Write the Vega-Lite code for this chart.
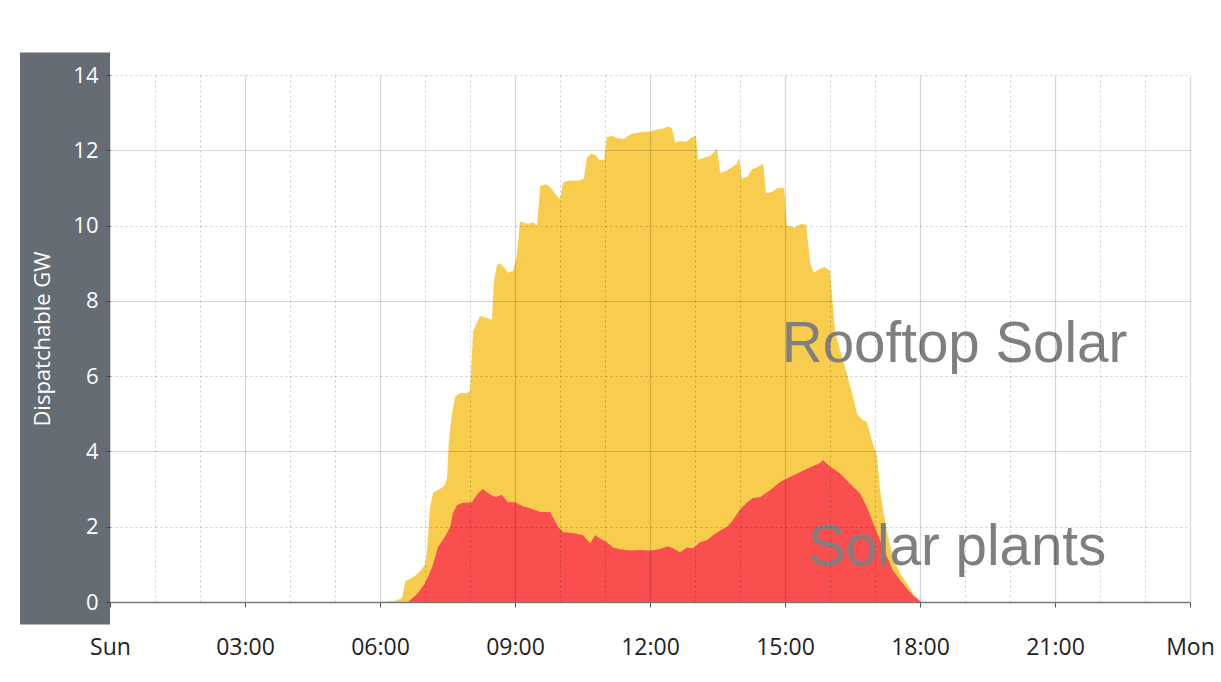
{
  "$schema": "https://vega.github.io/schema/vega-lite/v6.json",
  "width": 1080,
  "height": 527,
  "autosize": {"type": "none"},
  "padding": {"left": 110, "top": 75, "right": 31, "bottom": 80},
  "background": "white",
  "config": {"view": {"stroke": null}, "font": "Open Sans"},
  "datasets": {
    "total": [
      {"hour": 0, "gw": 0}, {"hour": 6.0, "gw": 0}, {"hour": 6.33, "gw": 0.03}, {"hour": 6.49, "gw": 0.1},
      {"hour": 6.56, "gw": 0.55}, {"hour": 6.67, "gw": 0.62}, {"hour": 6.78, "gw": 0.7}, {"hour": 6.89, "gw": 0.82},
      {"hour": 7.0, "gw": 1.0}, {"hour": 7.04, "gw": 1.3}, {"hour": 7.11, "gw": 2.5}, {"hour": 7.18, "gw": 2.9},
      {"hour": 7.33, "gw": 3.0}, {"hour": 7.44, "gw": 3.1}, {"hour": 7.49, "gw": 3.3}, {"hour": 7.53, "gw": 4.3},
      {"hour": 7.6, "gw": 5.0}, {"hour": 7.67, "gw": 5.45}, {"hour": 7.78, "gw": 5.55}, {"hour": 7.93, "gw": 5.55},
      {"hour": 8.0, "gw": 5.6}, {"hour": 8.07, "gw": 7.2}, {"hour": 8.13, "gw": 7.35}, {"hour": 8.22, "gw": 7.6},
      {"hour": 8.36, "gw": 7.55}, {"hour": 8.49, "gw": 7.5}, {"hour": 8.53, "gw": 8.5}, {"hour": 8.6, "gw": 8.95},
      {"hour": 8.67, "gw": 9.0}, {"hour": 8.78, "gw": 8.85}, {"hour": 8.84, "gw": 8.75}, {"hour": 8.96, "gw": 8.8},
      {"hour": 9.04, "gw": 9.2}, {"hour": 9.11, "gw": 10.1}, {"hour": 9.29, "gw": 10.05}, {"hour": 9.42, "gw": 10.08},
      {"hour": 9.49, "gw": 10.0}, {"hour": 9.56, "gw": 11.05}, {"hour": 9.69, "gw": 11.1}, {"hour": 9.78, "gw": 11.02},
      {"hour": 9.89, "gw": 10.85}, {"hour": 10.0, "gw": 10.7}, {"hour": 10.07, "gw": 11.15}, {"hour": 10.22, "gw": 11.2},
      {"hour": 10.44, "gw": 11.2}, {"hour": 10.53, "gw": 11.25}, {"hour": 10.6, "gw": 11.8}, {"hour": 10.69, "gw": 11.9},
      {"hour": 10.78, "gw": 11.88}, {"hour": 10.87, "gw": 11.75}, {"hour": 10.98, "gw": 11.75}, {"hour": 11.04, "gw": 12.35},
      {"hour": 11.16, "gw": 12.38}, {"hour": 11.29, "gw": 12.32}, {"hour": 11.42, "gw": 12.3}, {"hour": 11.56, "gw": 12.42},
      {"hour": 11.78, "gw": 12.48}, {"hour": 12.0, "gw": 12.5}, {"hour": 12.16, "gw": 12.55}, {"hour": 12.29, "gw": 12.58},
      {"hour": 12.4, "gw": 12.63}, {"hour": 12.49, "gw": 12.58}, {"hour": 12.56, "gw": 12.2}, {"hour": 12.67, "gw": 12.25},
      {"hour": 12.8, "gw": 12.22}, {"hour": 12.93, "gw": 12.35}, {"hour": 13.02, "gw": 12.38}, {"hour": 13.07, "gw": 11.75},
      {"hour": 13.2, "gw": 11.8}, {"hour": 13.33, "gw": 11.85}, {"hour": 13.42, "gw": 11.95}, {"hour": 13.49, "gw": 12.05},
      {"hour": 13.56, "gw": 11.4}, {"hour": 13.69, "gw": 11.45}, {"hour": 13.82, "gw": 11.55}, {"hour": 13.93, "gw": 11.65},
      {"hour": 13.98, "gw": 11.8}, {"hour": 14.04, "gw": 11.25}, {"hour": 14.16, "gw": 11.3}, {"hour": 14.27, "gw": 11.5},
      {"hour": 14.38, "gw": 11.55}, {"hour": 14.51, "gw": 11.65}, {"hour": 14.58, "gw": 10.85}, {"hour": 14.71, "gw": 10.9},
      {"hour": 14.84, "gw": 11.0}, {"hour": 14.98, "gw": 11.0}, {"hour": 15.04, "gw": 10.0}, {"hour": 15.22, "gw": 9.95},
      {"hour": 15.36, "gw": 10.05}, {"hour": 15.47, "gw": 10.02}, {"hour": 15.56, "gw": 9.0}, {"hour": 15.64, "gw": 8.75},
      {"hour": 15.78, "gw": 8.85}, {"hour": 15.87, "gw": 8.9}, {"hour": 16.0, "gw": 8.8}, {"hour": 16.11, "gw": 7.2},
      {"hour": 16.22, "gw": 6.7}, {"hour": 16.38, "gw": 6.05}, {"hour": 16.51, "gw": 5.45}, {"hour": 16.6, "gw": 5.0},
      {"hour": 16.71, "gw": 4.85}, {"hour": 16.82, "gw": 4.78}, {"hour": 16.93, "gw": 4.3}, {"hour": 17.04, "gw": 3.9},
      {"hour": 17.11, "gw": 3.0}, {"hour": 17.18, "gw": 2.45}, {"hour": 17.29, "gw": 1.73}, {"hour": 17.4, "gw": 1.2},
      {"hour": 17.56, "gw": 0.76}, {"hour": 17.71, "gw": 0.5}, {"hour": 17.84, "gw": 0.23}, {"hour": 17.96, "gw": 0.08},
      {"hour": 18.04, "gw": 0}, {"hour": 24, "gw": 0}
    ],
    "plants": [
      {"hour": 0, "gw": 0}, {"hour": 6.6, "gw": 0}, {"hour": 6.64, "gw": 0.02}, {"hour": 6.84, "gw": 0.23},
      {"hour": 7.0, "gw": 0.5}, {"hour": 7.16, "gw": 0.93}, {"hour": 7.29, "gw": 1.46}, {"hour": 7.44, "gw": 1.73},
      {"hour": 7.56, "gw": 1.99}, {"hour": 7.62, "gw": 2.36}, {"hour": 7.71, "gw": 2.57}, {"hour": 7.82, "gw": 2.63},
      {"hour": 8.04, "gw": 2.65}, {"hour": 8.18, "gw": 2.89}, {"hour": 8.29, "gw": 3.0}, {"hour": 8.4, "gw": 2.89},
      {"hour": 8.56, "gw": 2.79}, {"hour": 8.71, "gw": 2.84}, {"hour": 8.84, "gw": 2.65}, {"hour": 9.0, "gw": 2.65},
      {"hour": 9.16, "gw": 2.55}, {"hour": 9.33, "gw": 2.49}, {"hour": 9.56, "gw": 2.39}, {"hour": 9.78, "gw": 2.39},
      {"hour": 9.84, "gw": 2.26}, {"hour": 9.96, "gw": 1.99}, {"hour": 10.07, "gw": 1.85}, {"hour": 10.29, "gw": 1.83},
      {"hour": 10.51, "gw": 1.77}, {"hour": 10.67, "gw": 1.56}, {"hour": 10.78, "gw": 1.77}, {"hour": 10.89, "gw": 1.69},
      {"hour": 11.04, "gw": 1.59}, {"hour": 11.18, "gw": 1.45}, {"hour": 11.33, "gw": 1.4}, {"hour": 11.56, "gw": 1.37},
      {"hour": 11.78, "gw": 1.38}, {"hour": 12.0, "gw": 1.37}, {"hour": 12.22, "gw": 1.4}, {"hour": 12.38, "gw": 1.48},
      {"hour": 12.51, "gw": 1.43}, {"hour": 12.67, "gw": 1.32}, {"hour": 12.82, "gw": 1.45}, {"hour": 12.96, "gw": 1.43},
      {"hour": 13.11, "gw": 1.59}, {"hour": 13.27, "gw": 1.64}, {"hour": 13.4, "gw": 1.77}, {"hour": 13.56, "gw": 1.9},
      {"hour": 13.71, "gw": 1.99}, {"hour": 13.84, "gw": 2.17}, {"hour": 14.0, "gw": 2.46}, {"hour": 14.16, "gw": 2.65},
      {"hour": 14.29, "gw": 2.76}, {"hour": 14.44, "gw": 2.78}, {"hour": 14.67, "gw": 2.97}, {"hour": 14.89, "gw": 3.19},
      {"hour": 15.11, "gw": 3.32}, {"hour": 15.33, "gw": 3.45}, {"hour": 15.56, "gw": 3.58}, {"hour": 15.78, "gw": 3.69},
      {"hour": 15.84, "gw": 3.77}, {"hour": 16.0, "gw": 3.6}, {"hour": 16.22, "gw": 3.42}, {"hour": 16.44, "gw": 3.15},
      {"hour": 16.67, "gw": 2.88}, {"hour": 16.82, "gw": 2.52}, {"hour": 16.96, "gw": 2.1}, {"hour": 17.11, "gw": 1.64},
      {"hour": 17.27, "gw": 1.19}, {"hour": 17.4, "gw": 0.84}, {"hour": 17.56, "gw": 0.58}, {"hour": 17.71, "gw": 0.36},
      {"hour": 17.84, "gw": 0.18}, {"hour": 18.0, "gw": 0.02}, {"hour": 18.04, "gw": 0}, {"hour": 24, "gw": 0}
    ],
    "labels": [
      {"label": "Rooftop Solar", "hour": 14.93, "gw": 6.38},
      {"label": "Solar plants", "hour": 15.51, "gw": 0.98}
    ]
  },
  "layer": [
    {
      "data": {"values": [{}]},
      "mark": {"type": "rect", "color": "#656c74"},
      "encoding": {
        "x": {
          "datum": -2, "type": "quantitative",
          "scale": {"domain": [0, 24], "nice": false, "zero": false},
          "axis": {
            "title": null,
            "zindex": 1,
            "values": [0,1,2,3,4,5,6,7,8,9,10,11,12,13,14,15,16,17,18,19,20,21,22,23,24],
            "labelExpr": "datum.value == 0 ? 'Sun' : datum.value == 24 ? 'Mon' : (datum.value % 3 == 0 ? (datum.value < 10 ? '0' : '') + datum.value + ':00' : '')",
            "labelOverlap": false,
            "labelFlush": false,
            "labelFontSize": 23,
            "labelColor": "#222222",
            "labelPadding": 29,
            "domainColor": "#7a7a7a",
            "domainWidth": 1.5,
            "tickColor": "#555555",
            "tickSize": 5,
            "tickOpacity": {"condition": {"test": "datum.value % 3 == 0", "value": 1}, "value": 0},
            "grid": true,
            "gridColor": {"condition": {"test": "datum.value % 3 == 0", "value": "rgba(0,0,0,0.16)"}, "value": "rgba(0,0,0,0.2)"},
            "gridDash": {"condition": {"test": "datum.value % 3 == 0", "value": []}, "value": [2, 3]},
            "gridWidth": {"condition": {"test": "datum.value % 3 == 0", "value": 1.2}, "value": 1}
          }
        },
        "x2": {"datum": 0},
        "y": {
          "datum": -0.6, "type": "quantitative",
          "scale": {"domain": [0, 14], "nice": false},
          "axis": {
            "title": "Dispatchable GW",
            "zindex": 1,
            "titleColor": "white",
            "titleFontSize": 22,
            "titleFontWeight": "normal",
            "titlePadding": 18,
            "values": [0, 2, 4, 6, 8, 10, 12, 14],
            "labelColor": "white",
            "labelFontSize": 22,
            "labelPadding": 8,
            "domain": false,
            "tickColor": "#444444",
            "tickSize": 4,
            "grid": true,
            "gridColor": {"condition": {"test": "datum.value % 4 == 0", "value": "rgba(0,0,0,0.16)"}, "value": "rgba(0,0,0,0.2)"},
            "gridDash": {"condition": {"test": "datum.value % 4 == 0", "value": []}, "value": [2, 3]},
            "gridWidth": {"condition": {"test": "datum.value % 4 == 0", "value": 1.2}, "value": 1}
          }
        },
        "y2": {"datum": 14.6}
      }
    },
    {
      "data": {"name": "total"},
      "mark": {"type": "area", "color": "#f8cd4e", "interpolate": "linear"},
      "encoding": {
        "x": {"field": "hour", "type": "quantitative", "title": null},
        "y": {"field": "gw", "type": "quantitative", "title": "Dispatchable GW"}
      }
    },
    {
      "data": {"name": "plants"},
      "mark": {"type": "area", "color": "#f94f4f", "interpolate": "linear"},
      "encoding": {
        "x": {"field": "hour", "type": "quantitative", "title": null},
        "y": {"field": "gw", "type": "quantitative", "title": "Dispatchable GW"}
      }
    },
    {
      "data": {"name": "labels"},
      "mark": {"type": "text", "align": "left", "baseline": "alphabetic", "font": "Liberation Sans", "fontSize": 56.5, "color": "#7f7f7f"},
      "encoding": {
        "x": {"field": "hour", "type": "quantitative", "title": null},
        "y": {"field": "gw", "type": "quantitative", "title": "Dispatchable GW"},
        "text": {"field": "label"}
      }
    }
  ]
}
